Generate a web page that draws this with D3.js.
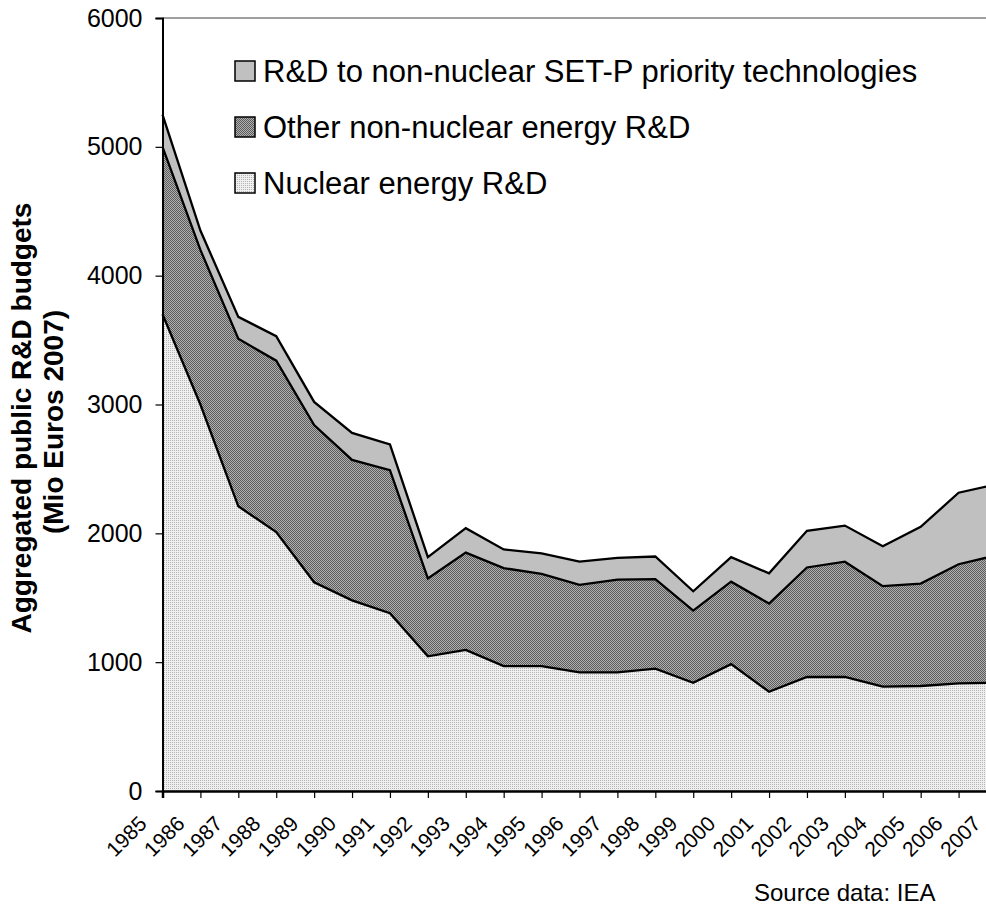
<!DOCTYPE html>
<html>
<head>
<meta charset="utf-8">
<script src="https://cdn.jsdelivr.net/npm/d3@7/dist/d3.min.js"></script>
<style>
	body { margin: 0; background: #fff; }
	svg { display: block; font-family: "Liberation Sans", Arial, sans-serif; }
</style>
</head>
<body>
<svg id="chart" width="986" height="908"></svg>
<script>
// values (Mio Euros 2007)
const years = [1985, 1986, 1987, 1988, 1989, 1990, 1991, 1992, 1993, 1994, 1995, 1996,
	1997, 1998, 1999, 2000, 2001, 2002, 2003, 2004, 2005, 2006, 2007];
const nuclear = [3700, 3000, 2210, 2010, 1620, 1480, 1380, 1045, 1095, 970, 970, 920,
	920, 950, 840, 985, 770, 885, 885, 810, 815, 835, 840];
const otherNonNuclear = [1300, 1200, 1300, 1330, 1220, 1090, 1110, 605, 755, 760, 715, 680,
	720, 695, 560, 640, 685, 850, 895, 780, 795, 925, 990];
const setPriority = [250, 150, 170, 190, 180, 210, 200, 165, 190, 145, 160, 180,
	170, 175, 150, 190, 235, 285, 280, 310, 440, 555, 550];
const seriesKeys = ["nuclear", "other", "setp"];
const seriesNames = ["Nuclear energy R&D", "Other non-nuclear energy R&D", "R&D to non-nuclear SET-P priority technologies"];
const yTicks = [0, 1000, 2000, 3000, 4000, 5000, 6000];

(function() {
	const svg = d3.select("#chart");

	const rows = years.map((yr, i) => ({year: yr, nuclear: nuclear[i], other: otherNonNuclear[i], setp: setPriority[i]}));
	const stacked = d3.stack().keys(seriesKeys)(rows);

	const x = d3.scaleLinear().domain([1985, 2007]).range([162.5, 996.5]);
	const y = d3.scaleLinear().domain([0, 6000]).range([791, 18]);

	// fill patterns, Excel-like
	const defs = svg.append("defs");
	const pNuc = defs.append("pattern").attr("id", "pat-nuclear")
		.attr("patternUnits", "userSpaceOnUse").attr("width", 2).attr("height", 2);
	pNuc.append("rect").attr("width", 2).attr("height", 2).attr("fill", "#f0f0f0");
	pNuc.append("rect").attr("width", 1).attr("height", 1).attr("fill", "#b4b4b4");

	const pOth = defs.append("pattern").attr("id", "pat-other")
		.attr("patternUnits", "userSpaceOnUse").attr("width", 2).attr("height", 2);
	pOth.append("rect").attr("width", 2).attr("height", 2).attr("fill", "#b0b0b0");
	pOth.append("rect").attr("width", 1).attr("height", 1).attr("fill", "#5c5c5c");
	pOth.append("rect").attr("x", 1).attr("y", 1).attr("width", 1).attr("height", 1).attr("fill", "#5c5c5c");

	const fills = {nuclear: "url(#pat-nuclear)", other: "url(#pat-other)", setp: "#c0c0c0"};

	// plot area top border
	svg.append("line")
		.attr("x1", x(1985)).attr("x2", x(2007))
		.attr("y1", y(6000)).attr("y2", y(6000))
		.attr("stroke", "#808080").attr("stroke-width", 1.5);

	const area = d3.area()
		.x(d => x(d.data.year))
		.y0(d => y(d[0])).y1(d => y(d[1]));
	const line = d3.line()
		.x(d => x(d.data.year))
		.y(d => y(d[1]));

	svg.append("g").selectAll("path.area")
		.data(stacked).join("path")
		.attr("class", "area")
		.attr("d", area)
		.attr("fill", d => fills[d.key])
		.attr("shape-rendering", "crispEdges");

	svg.append("g").selectAll("path.edge")
		.data(stacked).join("path")
		.attr("class", "edge")
		.attr("d", line)
		.attr("fill", "none")
		.attr("stroke", "#000")
		.attr("stroke-width", 2.3)
		.attr("stroke-linejoin", "miter");

	// y axis
	const yAxis = svg.append("g")
		.attr("transform", `translate(${x(1985)},0)`)
		.call(d3.axisLeft(y).tickValues(yTicks).tickSize(7).tickPadding(13).tickFormat(d3.format("d")));
	yAxis.select(".domain").attr("stroke", "#000").attr("stroke-width", 2);
	yAxis.selectAll(".tick line").attr("stroke", "#000").attr("stroke-width", 1.2);
	yAxis.selectAll(".tick text").attr("font-size", 25).attr("fill", "#000")
		.attr("font-family", "'Liberation Sans', Arial, sans-serif");

	// x axis
	const xAxis = svg.append("g")
		.attr("transform", `translate(0,${y(0)})`)
		.call(d3.axisBottom(x).tickValues(years).tickSize(7).tickFormat(d3.format("d")));
	xAxis.select(".domain").attr("stroke", "#000").attr("stroke-width", 2.5);
	xAxis.selectAll(".tick line").attr("stroke", "#000").attr("stroke-width", 1.2);
	xAxis.selectAll(".tick text")
		.attr("font-size", 21).attr("fill", "#000")
		.attr("font-family", "'Liberation Sans', Arial, sans-serif")
		.attr("text-anchor", "end")
		.attr("x", 0).attr("y", 0).attr("dy", 0)
		.attr("transform", "translate(-15,34) rotate(-45)");

	// axis title
	const title = svg.append("text")
		.attr("transform", "rotate(-90)")
		.attr("text-anchor", "middle")
		.attr("font-weight", "bold")
		.attr("font-size", 28);
	title.append("tspan").attr("x", -418).attr("y", 31).text("Aggregated public R&D budgets");
	title.append("tspan").attr("x", -422).attr("y", 63).text("(Mio Euros 2007)");

	// legend
	const legendItems = [2, 1, 0];
	const legend = svg.append("g").selectAll("g")
		.data(legendItems).join("g")
		.attr("transform", (d, i) => `translate(235,${61 + i * 56})`);
	legend.append("rect")
		.attr("width", 20).attr("height", 20)
		.attr("fill", d => fills[seriesKeys[d]])
		.attr("stroke", "#000").attr("stroke-width", 1.5);
	legend.append("text")
		.attr("x", 28).attr("y", 10).attr("dy", "0.36em")
		.attr("font-size", 31)
		.text(d => seriesNames[d]);

	svg.append("text")
		.attr("x", 754).attr("y", 901)
		.attr("font-size", 24)
		.text("Source data: IEA");
})();
</script>
</body>
</html>
